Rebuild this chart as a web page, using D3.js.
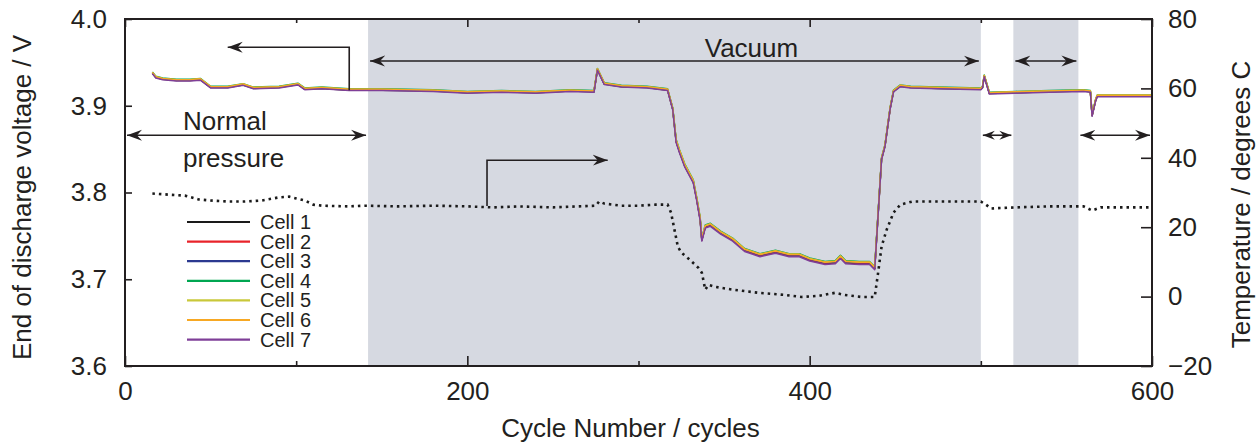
<!DOCTYPE html>
<html>
<head>
<meta charset="utf-8">
<script src="https://cdn.jsdelivr.net/npm/d3@7"></script>
<style>
  body { margin: 0; background: #fff; }
  text { font-family: "Liberation Sans", Arial, sans-serif; fill: #231f20; }
</style>
</head>
<body>
<div id="vis"></div>
<script>
// Frame
const FRAME_WIDTH = 1260;
const FRAME_HEIGHT = 443;
const MARGINS = {left: 125, right: 108, top: 19, bottom: 77};

// Data
const cells = ["Cell 1", "Cell 2", "Cell 3", "Cell 4", "Cell 5", "Cell 6", "Cell 7"];
const cellColors = ["#1a1a1a", "#e8232a", "#2b3990", "#00a651", "#c9c83a", "#f7a823", "#7f3f98"];

const voltCycles = [16, 18, 22, 30, 38, 44, 50, 60, 69, 75, 90, 101, 105, 115, 131, 150, 180, 200, 220, 240,
  260, 274, 276, 280, 290, 305, 317, 320, 322, 324, 327, 332, 334, 336, 337, 339, 342, 348, 355, 362,
  371, 380, 388, 394, 400, 409, 415, 418, 421, 429, 435, 438, 442, 444, 447, 449, 453, 459, 475, 500,
  501, 502, 505, 520, 540, 560, 564, 565, 567, 568, 580, 600];

const cell1 = [3.9375, 3.9325, 3.9305, 3.9290, 3.9290, 3.9300, 3.9210, 3.9210, 3.9240, 3.9200, 3.9210, 3.9245, 3.9190, 3.9200, 3.9180, 3.9180, 3.9170, 3.9150, 3.9160, 3.9150,
  3.9170, 3.9160, 3.9415, 3.9250, 3.9220, 3.9210, 3.9180, 3.8960, 3.8585, 3.8465, 3.8305, 3.8120, 3.7920, 3.7690, 3.7450, 3.7600, 3.7620, 3.7530, 3.7450, 3.7330,
  3.7270, 3.7310, 3.7270, 3.7270, 3.7220, 3.7180, 3.7190, 3.7250, 3.7190, 3.7180, 3.7180, 3.7120, 3.8385, 3.8535, 3.8965, 3.9165, 3.9225, 3.9210, 3.9200, 3.9190,
  3.9210, 3.9340, 3.9140, 3.9150, 3.9160, 3.9170, 3.9160, 3.8885, 3.9055, 3.9110, 3.9110, 3.9110];
const cell2 = [3.9380, 3.9330, 3.9310, 3.9295, 3.9295, 3.9305, 3.9215, 3.9215, 3.9245, 3.9205, 3.9215, 3.9250, 3.9195, 3.9205, 3.9185, 3.9185, 3.9175, 3.9155, 3.9165, 3.9155,
  3.9175, 3.9165, 3.9420, 3.9255, 3.9225, 3.9215, 3.9185, 3.8965, 3.8590, 3.8470, 3.8310, 3.8125, 3.7925, 3.7695, 3.7455, 3.7605, 3.7625, 3.7535, 3.7455, 3.7335,
  3.7275, 3.7315, 3.7275, 3.7275, 3.7225, 3.7185, 3.7195, 3.7255, 3.7195, 3.7185, 3.7185, 3.7125, 3.8390, 3.8540, 3.8970, 3.9170, 3.9230, 3.9215, 3.9205, 3.9195,
  3.9215, 3.9345, 3.9145, 3.9155, 3.9165, 3.9175, 3.9165, 3.8890, 3.9060, 3.9115, 3.9115, 3.9115];
const cell3 = [3.9380, 3.9330, 3.9310, 3.9295, 3.9295, 3.9305, 3.9215, 3.9215, 3.9245, 3.9205, 3.9215, 3.9250, 3.9195, 3.9205, 3.9185, 3.9185, 3.9175, 3.9155, 3.9165, 3.9155,
  3.9175, 3.9165, 3.9420, 3.9255, 3.9225, 3.9215, 3.9185, 3.8965, 3.8595, 3.8475, 3.8315, 3.8130, 3.7930, 3.7700, 3.7460, 3.7610, 3.7630, 3.7540, 3.7460, 3.7340,
  3.7280, 3.7320, 3.7280, 3.7280, 3.7230, 3.7190, 3.7200, 3.7270, 3.7200, 3.7190, 3.7190, 3.7130, 3.8390, 3.8540, 3.8970, 3.9170, 3.9230, 3.9215, 3.9205, 3.9195,
  3.9215, 3.9345, 3.9145, 3.9155, 3.9165, 3.9175, 3.9165, 3.8890, 3.9060, 3.9115, 3.9115, 3.9115];
const cell4 = [3.9390, 3.9340, 3.9320, 3.9305, 3.9305, 3.9315, 3.9225, 3.9225, 3.9255, 3.9215, 3.9225, 3.9260, 3.9205, 3.9215, 3.9195, 3.9195, 3.9185, 3.9165, 3.9175, 3.9165,
  3.9185, 3.9175, 3.9430, 3.9265, 3.9235, 3.9225, 3.9195, 3.8975, 3.8610, 3.8490, 3.8330, 3.8145, 3.7945, 3.7715, 3.7475, 3.7625, 3.7645, 3.7555, 3.7475, 3.7355,
  3.7295, 3.7335, 3.7295, 3.7295, 3.7245, 3.7205, 3.7215, 3.7275, 3.7215, 3.7205, 3.7205, 3.7145, 3.8400, 3.8550, 3.8980, 3.9180, 3.9240, 3.9225, 3.9215, 3.9205,
  3.9225, 3.9355, 3.9155, 3.9165, 3.9175, 3.9185, 3.9175, 3.8900, 3.9070, 3.9125, 3.9125, 3.9125];
const cell5 = [3.9385, 3.9335, 3.9315, 3.9300, 3.9300, 3.9310, 3.9220, 3.9220, 3.9250, 3.9210, 3.9220, 3.9255, 3.9200, 3.9210, 3.9190, 3.9190, 3.9180, 3.9160, 3.9170, 3.9160,
  3.9180, 3.9170, 3.9425, 3.9260, 3.9230, 3.9220, 3.9190, 3.8970, 3.8605, 3.8485, 3.8325, 3.8140, 3.7940, 3.7710, 3.7470, 3.7620, 3.7640, 3.7550, 3.7470, 3.7350,
  3.7290, 3.7330, 3.7290, 3.7290, 3.7240, 3.7200, 3.7210, 3.7270, 3.7210, 3.7200, 3.7200, 3.7140, 3.8395, 3.8545, 3.8975, 3.9175, 3.9235, 3.9220, 3.9210, 3.9200,
  3.9220, 3.9350, 3.9150, 3.9160, 3.9170, 3.9180, 3.9170, 3.8895, 3.9065, 3.9120, 3.9120, 3.9120];
const cell6 = [3.9385, 3.9335, 3.9315, 3.9300, 3.9300, 3.9310, 3.9220, 3.9220, 3.9250, 3.9210, 3.9220, 3.9255, 3.9200, 3.9210, 3.9190, 3.9190, 3.9180, 3.9160, 3.9170, 3.9160,
  3.9180, 3.9170, 3.9425, 3.9260, 3.9230, 3.9220, 3.9190, 3.8970, 3.8600, 3.8480, 3.8320, 3.8135, 3.7935, 3.7705, 3.7465, 3.7615, 3.7635, 3.7545, 3.7465, 3.7345,
  3.7285, 3.7325, 3.7285, 3.7285, 3.7235, 3.7195, 3.7205, 3.7265, 3.7205, 3.7195, 3.7195, 3.7135, 3.8395, 3.8545, 3.8975, 3.9175, 3.9235, 3.9220, 3.9210, 3.9200,
  3.9220, 3.9350, 3.9150, 3.9160, 3.9170, 3.9180, 3.9170, 3.8895, 3.9065, 3.9120, 3.9120, 3.9120];
const cell7 = [3.9370, 3.9320, 3.9300, 3.9285, 3.9285, 3.9295, 3.9205, 3.9205, 3.9235, 3.9195, 3.9205, 3.9240, 3.9185, 3.9195, 3.9175, 3.9175, 3.9165, 3.9145, 3.9155, 3.9145,
  3.9165, 3.9155, 3.9410, 3.9245, 3.9215, 3.9205, 3.9175, 3.8955, 3.8575, 3.8455, 3.8295, 3.8110, 3.7910, 3.7680, 3.7440, 3.7590, 3.7610, 3.7520, 3.7440, 3.7320,
  3.7260, 3.7300, 3.7260, 3.7260, 3.7210, 3.7170, 3.7180, 3.7240, 3.7180, 3.7170, 3.7170, 3.7110, 3.8380, 3.8530, 3.8960, 3.9160, 3.9220, 3.9205, 3.9195, 3.9185,
  3.9205, 3.9335, 3.9135, 3.9145, 3.9155, 3.9165, 3.9155, 3.8880, 3.9050, 3.9105, 3.9105, 3.9105];
const cellVolts = [cell1, cell2, cell3, cell4, cell5, cell6, cell7];

const tempCycles = [16, 25, 35, 43, 50, 60, 70, 80, 90, 96, 100, 105, 110, 115, 130, 140, 160, 180, 200, 215,
  230, 250, 265, 275, 277, 280, 290, 300, 310, 317, 319, 321, 323, 325, 330, 335, 337, 339, 341, 345,
  355, 370, 385, 395, 405, 415, 420, 430, 438, 440, 442, 445, 449, 453, 460, 480, 500, 503, 506, 520,
  540, 560, 565, 570, 600];
const tempValues = [29.7, 29.4, 29.1, 28.0, 27.7, 27.4, 27.4, 27.7, 28.6, 28.8, 28.3, 27.7, 26.5, 26.2, 26.0, 26.2, 26.0, 26.2, 26.0, 25.7,
  26.0, 25.7, 26.0, 26.2, 27.4, 26.8, 26.2, 26.2, 26.5, 26.5, 24.2, 19.3, 14.4, 12.7, 10.6, 8.3, 6.9, 2.0, 3.4, 2.8,
  2.0, 1.1, 0.5, -0.1, 0.2, 1.1, 0.5, -0.1, -0.1, 6.9, 14.4, 19.3, 24.2, 26.5, 27.4, 27.4, 27.4, 26.5, 25.4, 25.7,
  26.0, 26.0, 24.8, 25.7, 25.7];

// Pressure phases (cycle spans) and tick values
const vacuumSpans = [[142, 500], [519, 557]];
const normalSpans = [[0, 142], [500, 519], [557, 600]];
const xMajorTicks = [0, 200, 400, 600];
const xMinorTicks = [100, 300, 500];
const voltTicks = [3.6, 3.7, 3.8, 3.9, 4.0];
const tempTicks = [-20, 0, 20, 40, 60, 80];

const VIS_WIDTH = FRAME_WIDTH - MARGINS.left - MARGINS.right;
const VIS_HEIGHT = FRAME_HEIGHT - MARGINS.top - MARGINS.bottom;
const LEFT = MARGINS.left, RIGHT = MARGINS.left + VIS_WIDTH;
const TOP = MARGINS.top, BOTTOM = MARGINS.top + VIS_HEIGHT;

const svg = d3.select("#vis")
  .append("svg")
    .attr("width", FRAME_WIDTH)
    .attr("height", FRAME_HEIGHT);

const X_SCALE = d3.scaleLinear().domain([0, 600]).range([LEFT, RIGHT]);
const Y_VOLT = d3.scaleLinear().domain([3.6, 4.0]).range([BOTTOM, TOP]);
const Y_TEMP = d3.scaleLinear().domain([-20, 80]).range([BOTTOM, TOP]);

// arrow heads (normal and small)
const defs = svg.append("defs");
function marker(id, orient, s) {
  defs.append("marker")
      .attr("id", id)
      .attr("viewBox", "-15 -6 16 12")
      .attr("refX", 0).attr("refY", 0)
      .attr("markerWidth", 16 * s).attr("markerHeight", 12 * s)
      .attr("markerUnits", "userSpaceOnUse")
      .attr("orient", orient)
    .append("path")
      .attr("d", "M0,0 L-15,-5.5 L-10,0 L-15,5.5 Z")
      .attr("fill", "#231f20");
}
marker("head", "auto", 1);
marker("head2", "auto-start-reverse", 1);
marker("headS", "auto", 0.8);
marker("headS2", "auto-start-reverse", 0.8);

// shaded vacuum periods
svg.selectAll(".vac")
  .data(vacuumSpans)
  .enter()
  .append("rect")
    .attr("x", d => X_SCALE(d[0]))
    .attr("y", TOP)
    .attr("width", d => X_SCALE(d[1]) - X_SCALE(d[0]))
    .attr("height", VIS_HEIGHT)
    .attr("fill", "#d6d9e1");

// temperature (dotted)
const tempLine = d3.line()
  .x((d, i) => X_SCALE(tempCycles[i]))
  .y(d => Y_TEMP(d));

svg.append("path")
  .datum(tempValues)
  .attr("d", tempLine)
  .attr("fill", "none")
  .attr("stroke", "#1a1a1a")
  .attr("stroke-width", 2.6)
  .attr("stroke-dasharray", "2.5,4");

// voltage lines, Cell 1 first, Cell 7 last
const voltLine = d3.line()
  .x((d, i) => X_SCALE(voltCycles[i]))
  .y(d => Y_VOLT(d));

svg.selectAll(".cell")
  .data(cellVolts)
  .enter()
  .append("path")
    .attr("d", voltLine)
    .attr("fill", "none")
    .attr("stroke", (d, i) => cellColors[i])
    .attr("stroke-width", 1.5)
    .attr("stroke-linejoin", "round");

// phase arrows
const phaseArrows = vacuumSpans.map(d => ({span: d, y: 3.9515}))
  .concat(normalSpans.map(d => ({span: d, y: 3.866})));
const isShort = d => (d.span[1] - d.span[0]) < 25;
svg.selectAll(".phase")
  .data(phaseArrows)
  .enter()
  .append("line")
    .attr("x1", d => X_SCALE(d.span[0]) + 2)
    .attr("x2", d => X_SCALE(d.span[1]) - 2)
    .attr("y1", d => Y_VOLT(d.y))
    .attr("y2", d => Y_VOLT(d.y))
    .attr("stroke", "#231f20")
    .attr("stroke-width", 1.6)
    .attr("marker-start", d => isShort(d) ? "url(#headS2)" : "url(#head2)")
    .attr("marker-end", d => isShort(d) ? "url(#headS)" : "url(#head)");

// pointer to left axis
svg.append("path")
  .attr("d", "M" + X_SCALE(131) + "," + Y_VOLT(3.918) +
             "V" + Y_VOLT(3.9675) + "H" + X_SCALE(60))
  .attr("fill", "none").attr("stroke", "#231f20").attr("stroke-width", 1.6)
  .attr("marker-end", "url(#head)");

// pointer to right axis
svg.append("path")
  .attr("d", "M" + X_SCALE(211.5) + "," + Y_TEMP(26.1) +
             "V" + Y_TEMP(39.3) + "H" + X_SCALE(282))
  .attr("fill", "none").attr("stroke", "#231f20").attr("stroke-width", 1.6)
  .attr("marker-end", "url(#head)");

// phase labels
svg.append("text").attr("x", X_SCALE(366)).attr("y", 57)
  .attr("text-anchor", "middle").attr("font-size", "26px").text("Vacuum");
svg.append("text").attr("x", 183).attr("y", 130)
  .attr("font-size", "26px").text("Normal");
svg.append("text").attr("x", 183).attr("y", 167)
  .attr("font-size", "26px").text("pressure");

// legend
const legend = svg.selectAll(".legend")
  .data(cells)
  .enter()
  .append("g")
    .attr("transform", (d, i) => "translate(187," + (222 + i * 19.6) + ")");
legend.append("line")
  .attr("x1", 0).attr("x2", 63)
  .attr("stroke", (d, i) => cellColors[i])
  .attr("stroke-width", 2.2);
legend.append("text")
  .attr("x", 73).attr("y", 7)
  .attr("font-size", "20px")
  .text(d => d);

// axes
svg.append("g")
  .attr("transform", "translate(0," + BOTTOM + ")")
  .call(d3.axisBottom(X_SCALE).tickValues(xMajorTicks).tickSize(-10).tickPadding(16).tickFormat(d3.format("d")));
svg.append("g")
  .attr("transform", "translate(0," + BOTTOM + ")")
  .call(d3.axisBottom(X_SCALE).tickValues(xMinorTicks).tickSize(-5).tickFormat(""));
svg.append("g")
  .attr("transform", "translate(0," + TOP + ")")
  .call(d3.axisTop(X_SCALE).tickValues(xMajorTicks).tickSize(-8).tickFormat(""));
svg.append("g")
  .attr("transform", "translate(0," + TOP + ")")
  .call(d3.axisTop(X_SCALE).tickValues(xMinorTicks).tickSize(-4).tickFormat(""));
svg.append("g")
  .attr("transform", "translate(" + LEFT + ",0)")
  .call(d3.axisLeft(Y_VOLT).tickValues(voltTicks).tickSize(-7).tickPadding(18).tickFormat(d3.format(".1f")));
svg.append("g")
  .attr("transform", "translate(" + RIGHT + ",0)")
  .call(d3.axisRight(Y_TEMP).tickValues(tempTicks).tickSize(-11).tickPadding(16));

svg.selectAll(".tick text")
  .attr("font-size", "26px")
  .attr("font-family", "'Liberation Sans', Arial, sans-serif")
  .attr("fill", "#231f20");
svg.selectAll(".domain").remove();
svg.selectAll(".tick line").attr("stroke", "#231f20").attr("stroke-width", 1.6);

// frame
svg.append("rect")
  .attr("x", LEFT).attr("y", TOP)
  .attr("width", VIS_WIDTH).attr("height", VIS_HEIGHT)
  .attr("fill", "none").attr("stroke", "#231f20").attr("stroke-width", 2);

// axis titles
svg.append("text")
  .attr("transform", "translate(31," + (TOP + VIS_HEIGHT / 2 + 5) + ") rotate(-90)")
  .attr("text-anchor", "middle").attr("font-size", "26px")
  .text("End of discharge voltage / V");
svg.append("text")
  .attr("transform", "translate(1250," + (TOP + VIS_HEIGHT / 2 + 12) + ") rotate(-90)")
  .attr("text-anchor", "middle").attr("font-size", "26px")
  .text("Temperature / degrees C");
svg.append("text")
  .attr("x", (LEFT + RIGHT) / 2 - 8).attr("y", 437)
  .attr("text-anchor", "middle").attr("font-size", "26px")
  .text("Cycle Number / cycles");
</script>
</body>
</html>
